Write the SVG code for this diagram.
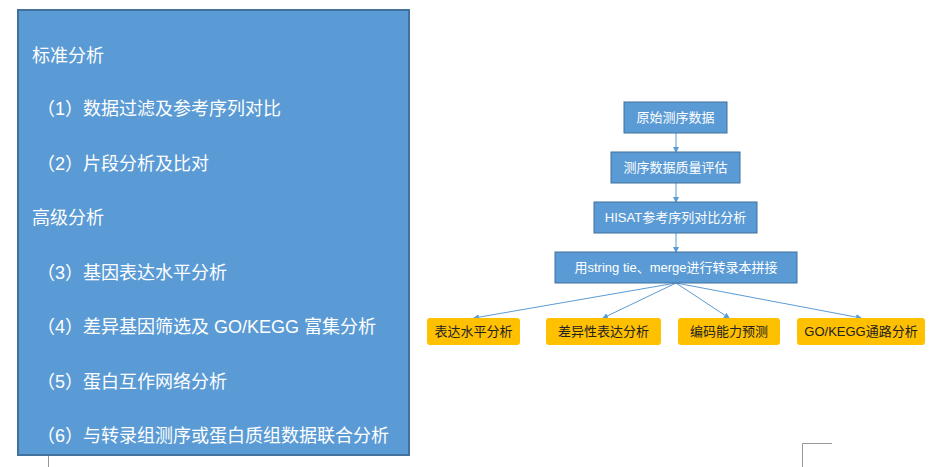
<svg xmlns="http://www.w3.org/2000/svg" width="932" height="467" viewBox="0 0 932 467">
<style>
.t{font-family:"Liberation Sans","Noto Sans CJK SC",sans-serif}
.L{fill:#fff;font-size:18px}
.B{fill:#5B9BD5;stroke:#41719C;stroke-width:1}
.bt{fill:#fff;font-size:13px;text-anchor:middle}
.O{fill:#FFC000}
.ot{fill:#222;font-size:13px;text-anchor:middle}
.c{stroke:#5B9BD5;stroke-width:1;fill:none;marker-end:url(#a)}
</style>
<defs><marker id="a" markerWidth="6" markerHeight="6" refX="5" refY="3" orient="auto" markerUnits="userSpaceOnUse"><path d="M0,0L6,3L0,6z" fill="#5B9BD5"/></marker></defs>
<rect width="932" height="467" fill="#fff"/>
<g id="panel">
<rect x="18" y="10" width="391" height="445" fill="#5B9BD5" stroke="#41719C" stroke-width="2"/>
<g class="t L">
<text x="32" y="62">标准分析</text>
<text x="37" y="115">（1）数据过滤及参考序列对比</text>
<text x="37" y="170">（2）片段分析及比对</text>
<text x="32" y="224">高级分析</text>
<text x="37" y="279">（3）基因表达水平分析</text>
<text x="37" y="333">（4）差异基因筛选及 GO/KEGG 富集分析</text>
<text x="37" y="388">（5）蛋白互作网络分析</text>
<text x="37" y="442">（6）与转录组测序或蛋白质组数据联合分析</text>
</g>
</g>
<g stroke="#999" stroke-width="1" fill="none"><path d="M48.5,456V467M802.5,467V443.5H832"/></g>
<g id="connectors">
<path class="c" d="M676,133V152"/>
<path class="c" d="M676,183V202"/>
<path class="c" d="M676,233V252"/>
<path class="c" d="M676,283L474,318"/>
<path class="c" d="M676,283L603,318"/>
<path class="c" d="M676,283L729,318"/>
<path class="c" d="M676,283L861,318"/>
</g>
<g id="n1"><rect class="B" x="624" y="102" width="103" height="31"/><text class="t bt" x="675.5" y="122">原始测序数据</text></g>
<g id="n2"><rect class="B" x="611" y="152" width="129" height="31"/><text class="t bt" x="675.5" y="172">测序数据质量评估</text></g>
<g id="n3"><rect class="B" x="594" y="202" width="163" height="31"/><text class="t bt" x="675.5" y="222">HISAT参考序列对比分析</text></g>
<g id="n4"><rect class="B" x="555" y="252" width="242" height="31"/><text class="t bt" x="676" y="272">用string tie、merge进行转录本拼接</text></g>
<g id="o1"><rect class="O" x="427" y="318" width="93" height="27" rx="3"/><text class="t ot" x="473.5" y="336">表达水平分析</text></g>
<g id="o2"><rect class="O" x="546" y="318" width="115" height="27" rx="3"/><text class="t ot" x="603.5" y="336">差异性表达分析</text></g>
<g id="o3"><rect class="O" x="678" y="318" width="102" height="27" rx="3"/><text class="t ot" x="729" y="336">编码能力预测</text></g>
<g id="o4"><rect class="O" x="797" y="318" width="128" height="27" rx="3"/><text class="t ot" x="861" y="336">GO/KEGG通路分析</text></g>
</svg>
